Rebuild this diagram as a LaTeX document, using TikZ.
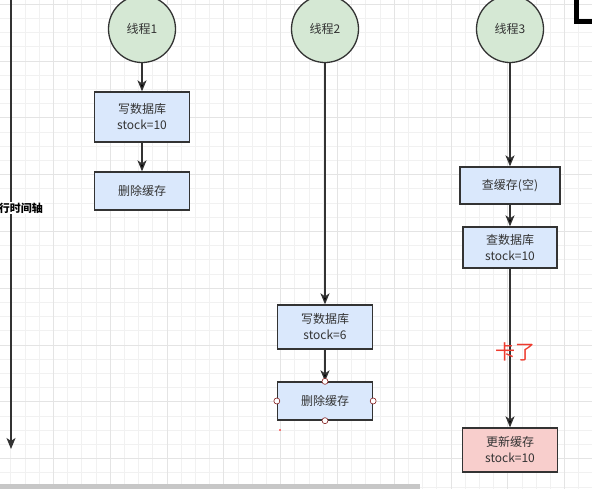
\documentclass[tikz,border=0pt]{standalone}
\usepackage{fontspec}
\setmainfont{Noto Sans CJK SC}
\usetikzlibrary{arrows.meta,positioning}
\definecolor{threadgreen}{HTML}{D5E8D4}
\definecolor{taskblue}{HTML}{DAE8FC}
\definecolor{taskred}{HTML}{F8CECC}
\definecolor{edgegray}{HTML}{333333}
\definecolor{stuckred}{HTML}{EE3B2E}
\definecolor{minorgrid}{HTML}{F1F1F1}
\definecolor{majorgrid}{HTML}{E4E4E4}

\begin{document}
\begin{tikzpicture}[x=1pt,y=-1pt,on grid,
  thread/.style={circle,draw=edgegray,line width=1.3pt,fill=threadgreen,
    minimum size=67pt,inner sep=0pt,text=edgegray,font=\fontsize{12}{16}\selectfont},
  task/.style={rectangle,draw=edgegray,line width=1.3pt,fill=taskblue,
    minimum width=95pt,inner sep=2pt,align=center,text=edgegray,
    font=\fontsize{12}{16}\selectfont},
  flow/.style={draw=edgegray,line width=1.3pt,-{Stealth[length=11pt,width=9pt,inset=3pt]}},
  handle/.style={circle,draw=edgegray!60!red,fill=white,line width=0.6pt,
    minimum size=6pt,inner sep=0pt}]
   \useasboundingbox (0,0) rectangle (592,488);
   \clip (0,0) rectangle (592,488);
   \fill[white] (0,0) rectangle (592,488);
   % canvas grid
   \begin{scope}[shift={(10.7,4.1)}]
     \draw[minorgrid,line width=0.8pt,step=14.2pt] (-20,-20) grid (600,500);
   \end{scope}
   \begin{scope}[shift={(53.3,4.1)}]
     \draw[majorgrid,line width=0.8pt,step=56.8pt] (-60,-60) grid (600,500);
   \end{scope}

   % time axis
   \coordinate (axtop) at (11,-2);
   \coordinate (axend) at (11,449);
   \draw[flow] (axtop) -- (axend);
   \node[fill=white,inner sep=1pt,anchor=east,text=black,
     font=\fontsize{11}{13}\selectfont\bfseries] (axis) at (44,208) {行时间轴};

   % threads
   \node[thread] (t1) at (142,29) {线程1};
   \node[thread] (t2) at (325,29) {线程2};
   \node[thread] (t3) at (510,29) {线程3};

   \node[task,minimum height=50pt] (w1) [below=88pt of t1] {写数据库\\stock=10};
   \node[task,minimum height=38pt] (d1) [below=74pt of w1] {删除缓存};
   \node[task,minimum height=44pt] (w2) [below=298pt of t2] {写数据库\\stock=6};
   \node[task,minimum height=38pt] (d2) [below=74pt of w2] {删除缓存};
   \node[task,minimum width=100pt,minimum height=37pt] (c3) [below=156.5pt of t3] {查缓存(空)};
   \node[task,minimum width=94pt,minimum height=41pt] (q3) [below=62pt of c3] {查数据库\\stock=10};
   \node[task,fill=taskred,minimum height=44pt] (u3) [below=202.5pt of q3] {更新缓存\\stock=10};

   \path[flow]
    (t1) edge (w1)
    (w1) edge (d1)
    (t2) edge (w2)
    (w2) edge (d2)
    (t3) edge (c3)
    (c3) edge (q3)
    (q3) edge (u3);

   \node[text=stuckred,font=\fontsize{20}{24}\selectfont] (stuck) at (515,352) {卡了};

   % selection handles
   \foreach \side in {north,south,west,east}
     \node[handle] at (d2.\side) {};
   \fill[red] (280,430) circle (0.8pt);

   % window chrome
   \fill[black!22] (0,484) rectangle (420,490);
   \draw[black,line width=5pt] (576,-5) -- (576,21) -- (600,21);
\end{tikzpicture}
\end{document}
